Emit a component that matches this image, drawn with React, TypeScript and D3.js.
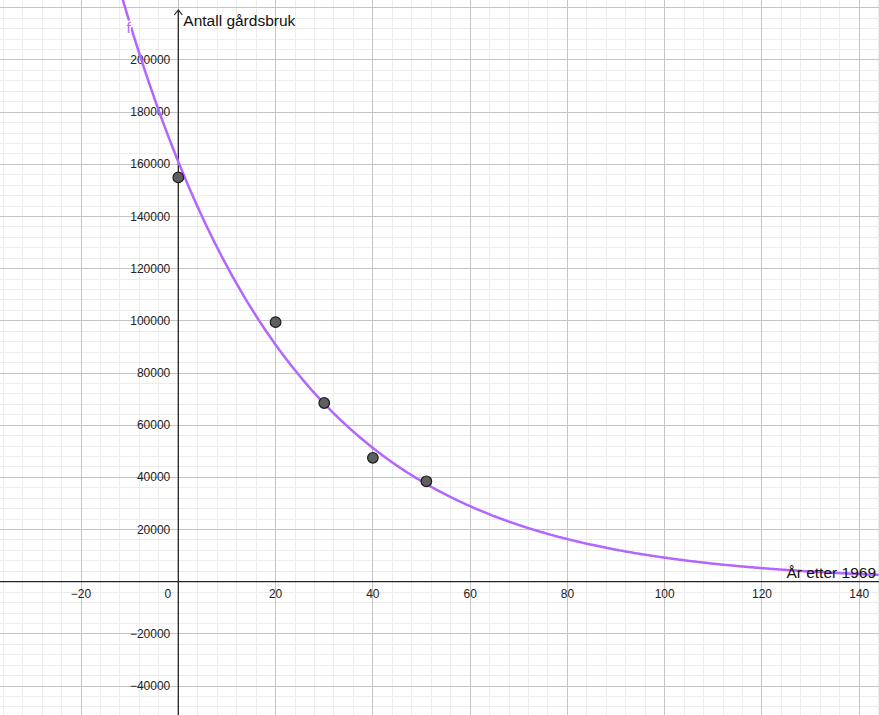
import React from "react";
import * as d3 from "d3";

const W = 879;
const H = 715;

// Data points (years after 1969, number of farms)
const years = [0, 20, 30, 40, 51];
const farms = [155000, 99500, 68500, 47500, 38500];

// Fitted exponential model f(x) = a * b^x
const fitA = 161000;
const fitB = 0.9718;

const xTicks = [-20, 0, 20, 40, 60, 80, 100, 120, 140];
const yTicks = [-40000, -20000, 20000, 40000, 60000, 80000, 100000, 120000, 140000, 160000, 180000, 200000];

const xLabel = "År etter 1969";
const yLabel = "Antall gårdsbruk";
const fnName = "f";

export default function App() {
  const x = d3.scaleLinear().domain([-36.66, 144.06]).range([0, W]);
  const y = d3.scaleLinear().domain([223000, -51100]).range([0, H]);

  const minorX = d3.range(-36, 145, 4);
  const minorY = d3.range(-48000, 224001, 4000);
  const majorX = d3.range(-20, 145, 20);
  const majorY = d3.range(-40000, 224001, 20000);

  const xs = d3.range(-12, 144.2, 0.25);
  const line = d3
    .line<number>()
    .x((d) => x(d))
    .y((d) => y(fitA * Math.pow(fitB, d)));

  const x0 = x(0);
  const y0 = y(0);
  const fmt = (v: number) => (v < 0 ? "\u2212" + Math.abs(v) : String(v));
  const font = "'Liberation Sans', Arial, sans-serif";

  return (
    <svg
      width={W}
      height={H}
      style={{ position: "fixed", left: 0, top: 0, display: "block", background: "#fff" }}
      fontFamily={font}
    >
      <rect width={W} height={H} fill="#fff" />
      <g shapeRendering="crispEdges">
        {minorX.map((v) => (
          <line key={"mx" + v} x1={x(v)} x2={x(v)} y1={0} y2={H} stroke="#ececec" strokeWidth={1} />
        ))}
        {minorY.map((v) => (
          <line key={"my" + v} x1={0} x2={W} y1={y(v)} y2={y(v)} stroke="#ececec" strokeWidth={1} />
        ))}
        {majorX.map((v) => (
          <line key={"Mx" + v} x1={x(v)} x2={x(v)} y1={0} y2={H} stroke="#c4c4c4" strokeWidth={1} />
        ))}
        {majorY.map((v) => (
          <line key={"My" + v} x1={0} x2={W} y1={y(v)} y2={y(v)} stroke="#c4c4c4" strokeWidth={1} />
        ))}
      </g>
      {/* axes */}
      <line x1={0} x2={W} y1={y0} y2={y0} stroke="#252525" strokeWidth={1.3} />
      <line x1={x0} x2={x0} y1={10} y2={H} stroke="#252525" strokeWidth={1.3} />
      <path
        d={`M${x0 - 4},${15} L${x0},${10} L${x0 + 4},${15}`}
        fill="none"
        stroke="#252525"
        strokeWidth={1.2}
      />
      {/* tick labels */}
      {xTicks.map((v) =>
        v === 0 ? (
          <text key={"xt" + v} x={x0 - 7} y={y0 + 16} fontSize={12} textAnchor="end" fill="#222">
            0
          </text>
        ) : (
          <text key={"xt" + v} x={x(v)} y={y0 + 16} fontSize={12} textAnchor="middle" fill="#222">
            {fmt(v)}
          </text>
        )
      )}
      {yTicks.map((v) => (
        <text key={"yt" + v} x={x0 - 8} y={y(v) + 4} fontSize={12} textAnchor="end" fill="#222">
          {fmt(v)}
        </text>
      ))}
      {/* curve */}
      <path d={line(xs) || ""} fill="none" stroke="#b266ff" strokeWidth={2.5} />
      <text
        x={126.5}
        y={33}
        fontSize={15}
        fill="#b266ff"
        stroke="#ffffff"
        strokeWidth={3}
        paintOrder="stroke"
        strokeLinejoin="round"
      >
        {fnName}
      </text>
      {/* points */}
      {years.map((v, i) => (
        <circle key={"p" + i} cx={x(v)} cy={y(farms[i])} r={5.3} fill="#5f5f5f" stroke="#1a1a1a" strokeWidth={1.2} />
      ))}
      {/* axis labels */}
      <text x={x0 + 5} y={26} fontSize={15.5} fill="#111">
        {yLabel}
      </text>
      <text x={876} y={578} fontSize={15.5} textAnchor="end" fill="#111">
        {xLabel}
      </text>
    </svg>
  );
}
